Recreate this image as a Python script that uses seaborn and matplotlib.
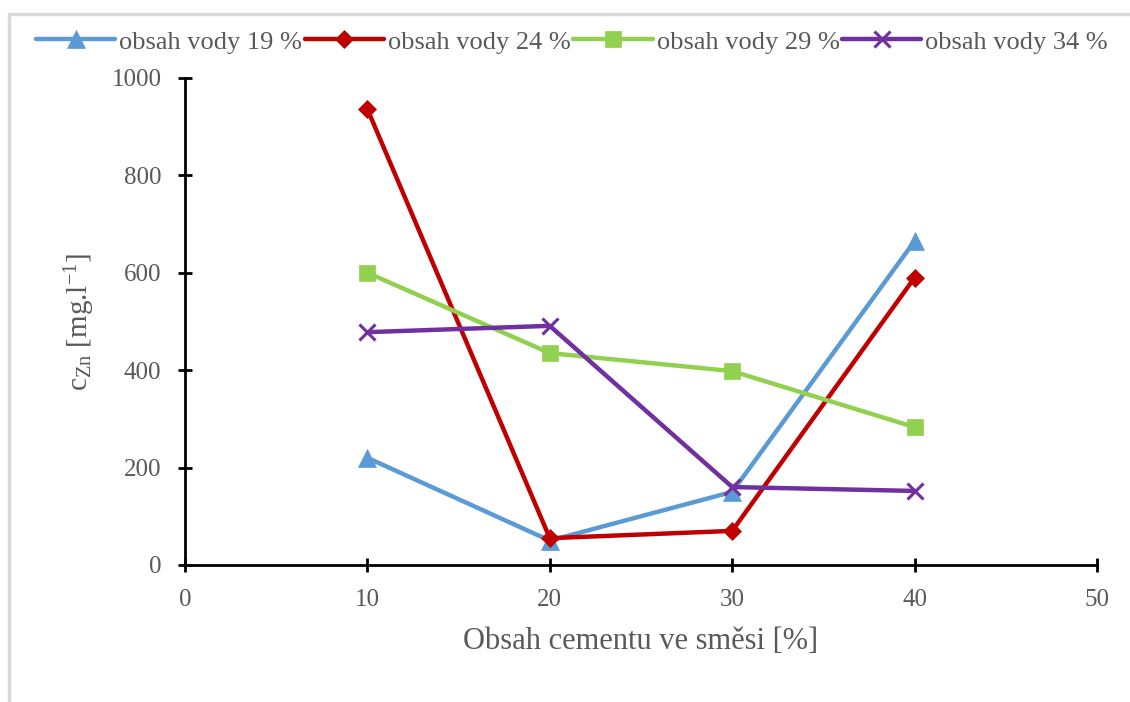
import matplotlib
matplotlib.use("Agg")
import matplotlib.pyplot as plt
import seaborn as sns
import pandas as pd
from matplotlib.lines import Line2D

cement = [10, 20, 30, 40]
water_19 = [220, 50, 150, 665]
water_24 = [936, 55, 70, 590]
water_29 = [600, 435, 398, 283]
water_34 = [478, 491, 160, 152]
series_labels = ["obsah vody 19 %", "obsah vody 24 %", "obsah vody 29 %", "obsah vody 34 %"]
x_ticks = [0, 10, 20, 30, 40, 50]
y_ticks = [0, 200, 400, 600, 800, 1000]

colors = ["#5B9BD5", "#C00000", "#92D050", "#7030A0"]
markers = ["^", "D", "s", "x"]
msizes = [13, 9, 12, 11]

sns.set_style("white")
plt.rcParams["font.family"] = ["Liberation Serif", "DejaVu Serif"]
plt.rcParams["mathtext.fontset"] = "custom"
plt.rcParams["mathtext.rm"] = "Liberation Serif"
plt.rcParams["mathtext.it"] = "Liberation Serif:italic"

rows = []
for lab, vals in zip(series_labels, [water_19, water_24, water_29, water_34]):
    for x, v in zip(cement, vals):
        rows.append({"cement": x, "value": v, "series": lab})
df = pd.DataFrame(rows)

fig = plt.figure(figsize=(11.3, 7.02), dpi=100)
ax = fig.add_axes([0.1637, 0.1952, 0.8071, 0.6938])

for lab, c, m, ms in zip(series_labels, colors, markers, msizes):
    sub = df[df["series"] == lab]
    sns.lineplot(data=sub, x="cement", y="value", ax=ax, color=c, linewidth=3.2,
                 marker=m, markersize=ms, markeredgecolor=c, markerfacecolor=c,
                 markeredgewidth=2.2 if m == "x" else 0.5, label=lab)

ax.set_xlim(0, 50)
ax.set_ylim(0, 1000)
ax.set_xticks(x_ticks)
ax.set_yticks(y_ticks)
txt = "#595959"
ax.tick_params(axis="both", which="major", bottom=True, left=True, direction="inout",
               length=10, width=2, color="black", labelsize=18, labelcolor=txt)
ax.tick_params(axis="x", pad=12)
ax.tick_params(axis="y", pad=12)
for s in ["top", "right"]:
    ax.spines[s].set_visible(False)
for s in ["left", "bottom"]:
    ax.spines[s].set_color("black")
    ax.spines[s].set_linewidth(2)
ax.set_xlabel("Obsah cementu ve směsi [%]", fontsize=22, color=txt, labelpad=12)
ax.set_ylabel(r"c$_{\mathrm{Zn}}$ [mg.l$^{\mathrm{-1}}$]", fontsize=21, color=txt, labelpad=10)

ax.legend(loc="center", ncol=4, frameon=False, fontsize=19, handlelength=3.0,
          handletextpad=0.15, columnspacing=0.1, labelcolor=txt,
          bbox_to_anchor=(572 / 1130, 1 - 42 / 702), bbox_transform=fig.transFigure)

fig.add_artist(Line2D([9 / 1130, 9 / 1130], [0, 1 - 14 / 702], transform=fig.transFigure,
                      color="#d9d9d9", linewidth=2.5))
fig.add_artist(Line2D([9 / 1130, 1], [1 - 14 / 702, 1 - 14 / 702], transform=fig.transFigure,
                      color="#d9d9d9", linewidth=2.5))

fig.savefig("out.png", dpi=100)
